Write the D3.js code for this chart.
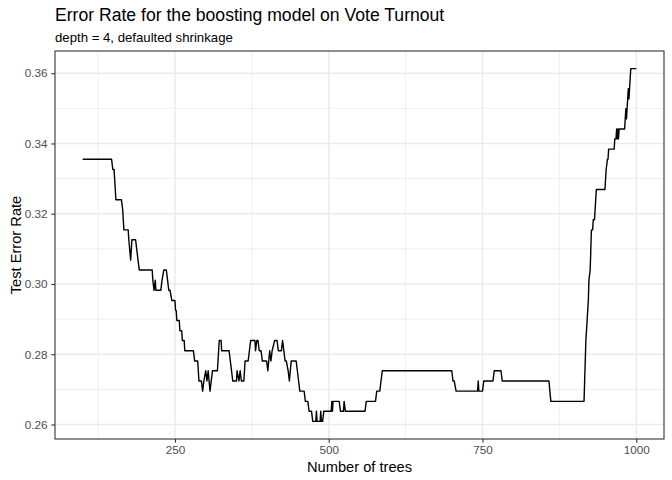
<!DOCTYPE html>
<html>
<head>
<meta charset="utf-8">
<script src="https://cdn.jsdelivr.net/npm/d3@7/dist/d3.min.js"></script>
<style>
  html, body { margin: 0; padding: 0; background: #ffffff; }
  svg { display: block; }
  text { font-family: "Liberation Sans", Arial, Helvetica, sans-serif; }
</style>
</head>
<body>
<script>
// ---- data ----
const trees = [
  100,147,149,151,152,153,154,163,165,166,
  167,174,175,178,179,180,186,188,190,192,
  213,214,216,218,219,227,229,232,236,238,
  240,242,245,250,251,252,253,257,258,261,
  262,265,266,280,282,287,289,293,295,297,
  300,302,304,307,311,319,322,325,326,338,
  340,344,350,351,354,356,358,362,364,369,
  371,373,380,381,383,385,387,390,392,399,
  401,404,406,408,412,416,418,423,425,427,
  429,431,434,436,439,447,449,451,453,460,
  462,466,468,472,474,479,480,481,486,487,
  488,490,492,504,505,506,507,517,519,524,
  525,527,559,561,576,578,583,585,587,700,
  702,704,707,742,743,744,750,752,767,769,
  780,782,858,861,915,916,917,918,919,920,
  921,922,923,925,926,927,929,930,932,933,
  934,935,949,950,951,953,954,955,964,965,
  967,968,969,970,971,972,981,982,983,984,
  985,986,987,988,989,990,991,1000
];
const errorRate = [
  .3355,.3355,.3326,.3326,.3298,.3269,.3240,.3240,.3212,.3183,
  .3154,.3154,.3126,.3068,.3097,.3126,.3126,.3097,.3068,.3040,
  .3040,.3011,.2982,.3011,.2982,.2982,.3011,.3040,.3040,.3011,
  .2982,.2982,.2953,.2953,.2925,.2925,.2896,.2896,.2867,.2867,
  .2839,.2839,.2810,.2810,.2781,.2781,.2724,.2724,.2695,.2724,
  .2753,.2724,.2753,.2695,.2753,.2753,.2839,.2839,.2810,.2810,
  .2781,.2724,.2724,.2753,.2724,.2753,.2724,.2724,.2781,.2781,
  .2810,.2839,.2839,.2810,.2839,.2839,.2810,.2810,.2781,.2781,
  .2753,.2810,.2781,.2810,.2839,.2839,.2810,.2810,.2839,.2810,
  .2781,.2781,.2753,.2724,.2781,.2781,.2753,.2724,.2695,.2695,
  .2666,.2666,.2638,.2638,.2609,.2609,.2638,.2609,.2609,.2638,
  .2609,.2609,.2638,.2638,.2666,.2638,.2666,.2666,.2638,.2638,
  .2666,.2638,.2638,.2666,.2666,.2695,.2695,.2724,.2753,.2753,
  .2724,.2724,.2695,.2695,.2724,.2695,.2695,.2724,.2724,.2753,
  .2753,.2724,.2724,.2666,.2666,.2724,.2781,.2839,.2867,.2896,
  .2925,.2953,.3011,.3040,.3097,.3154,.3154,.3183,.3183,.3212,
  .3240,.3269,.3269,.3298,.3326,.3355,.3355,.3384,.3384,.3413,
  .3413,.3441,.3413,.3441,.3413,.3441,.3441,.3470,.3499,.3470,
  .3499,.3527,.3556,.3527,.3556,.3585,.3613,.3613
];
const xTicks = [250, 500, 750, 1000];
const xMinorTicks = [125, 375, 625, 875];
const yTicks = [0.26, 0.28, 0.30, 0.32, 0.34, 0.36];
const yMinorTicks = [0.27, 0.29, 0.31, 0.33, 0.35];
const titleText = "Error Rate for the boosting model on Vote Turnout";
const subtitleText = "depth = 4, defaulted shrinkage";
const xLabel = "Number of trees";
const yLabel = "Test Error Rate";

// ---- layout ----
const W = 672, H = 480;
const panel = { left: 55, right: 664, top: 51, bottom: 439 };

const data = trees.map((t, i) => ({ t: t, e: errorRate[i] }));

function expand(ext) {
  const pad = (ext[1] - ext[0]) * 0.05;
  return [ext[0] - pad, ext[1] + pad];
}

const x = d3.scaleLinear()
  .domain(expand(d3.extent(trees)))
  .range([panel.left, panel.right]);
const y = d3.scaleLinear()
  .domain(expand(d3.extent(errorRate)))
  .range([panel.bottom, panel.top]);

const svg = d3.select("body").append("svg")
  .attr("width", W).attr("height", H)
  .attr("viewBox", `0 0 ${W} ${H}`);

svg.append("rect").attr("width", W).attr("height", H).attr("fill", "#ffffff");

// panel background
svg.append("rect")
  .attr("x", panel.left).attr("y", panel.top)
  .attr("width", panel.right - panel.left)
  .attr("height", panel.bottom - panel.top)
  .attr("fill", "#ffffff");

const grid = svg.append("g");
// minor grid
grid.selectAll(".xminor").data(xMinorTicks).join("line")
  .attr("x1", d => x(d)).attr("x2", d => x(d))
  .attr("y1", panel.top).attr("y2", panel.bottom)
  .attr("stroke", "#EBEBEB").attr("stroke-width", 0.8);
grid.selectAll(".yminor").data(yMinorTicks).join("line")
  .attr("y1", d => y(d)).attr("y2", d => y(d))
  .attr("x1", panel.left).attr("x2", panel.right)
  .attr("stroke", "#EBEBEB").attr("stroke-width", 0.8);
// major grid
grid.selectAll(".xmajor").data(xTicks).join("line")
  .attr("x1", d => x(d)).attr("x2", d => x(d))
  .attr("y1", panel.top).attr("y2", panel.bottom)
  .attr("stroke", "#EBEBEB").attr("stroke-width", 1.5);
grid.selectAll(".ymajor").data(yTicks).join("line")
  .attr("y1", d => y(d)).attr("y2", d => y(d))
  .attr("x1", panel.left).attr("x2", panel.right)
  .attr("stroke", "#EBEBEB").attr("stroke-width", 1.5);

// data line
const line = d3.line().x(d => x(d.t)).y(d => y(d.e));
svg.append("path")
  .datum(data)
  .attr("d", line)
  .attr("fill", "none")
  .attr("stroke", "#000000")
  .attr("stroke-width", 1.4)
  .attr("stroke-linejoin", "round");

// panel border
svg.append("rect")
  .attr("x", panel.left).attr("y", panel.top)
  .attr("width", panel.right - panel.left)
  .attr("height", panel.bottom - panel.top)
  .attr("fill", "none")
  .attr("stroke", "#333333")
  .attr("stroke-width", 1.1);

// axes
const xAxis = d3.axisBottom(x).tickValues(xTicks)
  .tickFormat(d3.format("d")).tickSize(3.7).tickPadding(3.2);
const gx = svg.append("g")
  .attr("transform", `translate(0,${panel.bottom})`)
  .call(xAxis);
const yAxis = d3.axisLeft(y).tickValues(yTicks)
  .tickFormat(d3.format(".2f")).tickSize(3.7).tickPadding(3.8);
const gy = svg.append("g")
  .attr("transform", `translate(${panel.left},0)`)
  .call(yAxis);

[gx, gy].forEach(g => {
  g.select(".domain").remove();
  g.selectAll(".tick line").attr("stroke", "#333333").attr("stroke-width", 1.1);
  g.selectAll(".tick text")
    .attr("fill", "#4D4D4D")
    .attr("font-size", "11.7px")
    .attr("font-family", "Liberation Sans, Arial, sans-serif");
});

// titles
svg.append("text")
  .attr("x", panel.left).attr("y", 20.5)
  .attr("font-size", "17.6px").attr("fill", "#000000")
  .text(titleText);
svg.append("text")
  .attr("x", panel.left).attr("y", 41.5)
  .attr("font-size", "13.2px").attr("fill", "#000000")
  .text(subtitleText);

svg.append("text")
  .attr("x", (panel.left + panel.right) / 2).attr("y", 472)
  .attr("text-anchor", "middle")
  .attr("font-size", "14.67px").attr("fill", "#000000")
  .text(xLabel);
svg.append("text")
  .attr("transform", `translate(20.5,${(panel.top + panel.bottom) / 2}) rotate(-90)`)
  .attr("text-anchor", "middle")
  .attr("font-size", "14.67px").attr("fill", "#000000")
  .text(yLabel);
</script>
</body>
</html>
